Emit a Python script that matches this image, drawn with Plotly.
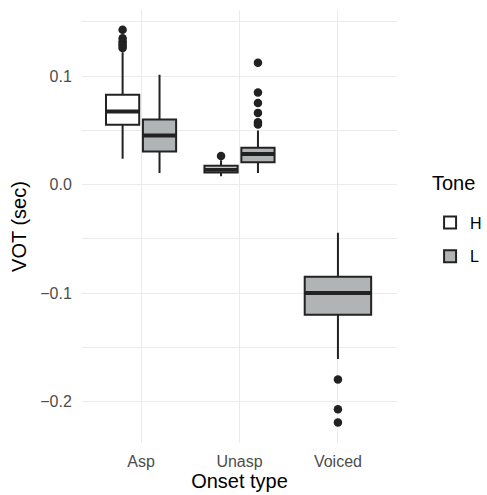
import plotly.graph_objects as go

# ---- data ----
categories = ["Asp", "Unasp", "Voiced"]
y_tickvals = [-0.2, -0.1, 0.0, 0.1]
y_ticktext = ["\u22120.2", "\u22120.1", "0.0", "0.1"]

# Tone H
h_cats = ["Asp", "Unasp"]
h_q1 = [0.0552, 0.0112]
h_med = [0.0674, 0.0138]
h_q3 = [0.0828, 0.0174]
h_lo = [0.0240, 0.0078]
h_hi = [0.1220, 0.0225]
h_out = [[0.1427, 0.1350, 0.1320, 0.1300, 0.1280, 0.1260], [0.0264]]

# Tone L
l_cats = ["Asp", "Unasp", "Voiced"]
l_q1 = [0.0307, 0.0208, -0.1199]
l_med = [0.0454, 0.0284, -0.0998]
l_q3 = [0.0600, 0.0341, -0.0849]
l_lo = [0.0108, 0.0108, -0.1606]
l_hi = [0.1014, 0.0500, -0.0442]
l_out = [[], [0.1124, 0.0849, 0.0754, 0.0662, 0.0576, 0.0555], [-0.1794, -0.2069, -0.2191]]

# ---- styling ----
LINE = "#222222"
GRAY_FILL = "#B1B4B4"
FONT = "Liberation Sans, Arial, sans-serif"
DODGE = 0.75
PAD = 0.1

cat_pos = {c: i + 1 for i, c in enumerate(categories)}

fig = go.Figure()


def add_group(cats, q1, med, q3, lo, hi, outs, tone, fill, offset_sign):
    groups = {}
    for i, c in enumerate(cats):
        both = c in h_cats and c in l_cats
        if both:
            x = cat_pos[c] + offset_sign * DODGE / 4
            w = DODGE / 2 * (1 - PAD)
        else:
            x = cat_pos[c]
            w = DODGE * (1 - PAD)
        groups.setdefault(w, []).append((i, x))
    first = True
    for w, items in groups.items():
        idx = [i for i, _ in items]
        xs = [x for _, x in items]
        fig.add_trace(go.Box(
            name=tone, legendgroup=tone, showlegend=first,
            x=xs,
            q1=[q1[i] for i in idx], median=[med[i] for i in idx], q3=[q3[i] for i in idx],
            lowerfence=[lo[i] for i in idx], upperfence=[hi[i] for i in idx],
            width=w, whiskerwidth=0, fillcolor=fill,
            line=dict(color=LINE, width=2), boxpoints=False, hoverinfo="skip",
        ))
        first = False
        mx, my = [], []
        for i, x in items:
            mx += [x - w / 2, x + w / 2, None]
            my += [med[i], med[i], None]
        fig.add_trace(go.Scatter(x=mx, y=my, mode="lines", line=dict(color=LINE, width=4),
                                 showlegend=False, hoverinfo="skip", legendgroup=tone))
        ox, oy = [], []
        for i, x in items:
            for v in outs[i]:
                ox.append(x)
                oy.append(v)
        if ox:
            fig.add_trace(go.Scatter(x=ox, y=oy, mode="markers",
                                     marker=dict(color=LINE, size=8.5),
                                     showlegend=False, hoverinfo="skip", legendgroup=tone))


add_group(h_cats, h_q1, h_med, h_q3, h_lo, h_hi, h_out, "H", "white", -1)
add_group(l_cats, l_q1, l_med, l_q3, l_lo, l_hi, l_out, "L", GRAY_FILL, +1)

minor_y = [-0.15, -0.05, 0.05, 0.15]

fig.update_layout(
    width=487, height=495,
    margin=dict(l=82, r=90, t=10, b=52, autoexpand=False),
    plot_bgcolor="white", paper_bgcolor="white",
    font=dict(family=FONT, size=16, color="#4D4D4D"),
    boxmode="overlay",
    showlegend=True,
    legend=dict(
        font=dict(size=16, color="black"),
        x=1.105, xanchor="left", y=0.47, yanchor="middle",
        tracegroupgap=10, bgcolor="rgba(0,0,0,0)",
    ),
    annotations=[dict(
        text="Tone", xref="paper", yref="paper", x=1.105, y=0.60,
        xanchor="left", yanchor="middle", showarrow=False,
        font=dict(size=20, color="black", family=FONT),
    )],
    xaxis=dict(
        range=[0.4, 3.6], automargin=False,
        tickvals=[cat_pos[c] for c in categories], ticktext=categories,
        showgrid=True, gridcolor="#EBEBEB", gridwidth=1.2,
        zeroline=False, showline=False,
        ticks="outside", ticklen=4, tickcolor="rgba(0,0,0,0)",
        tickfont=dict(size=16, color="#4D4D4D"),
        title=dict(text="Onset type", font=dict(size=20, color="black"), standoff=4),
    ),
    yaxis=dict(
        range=[-0.238, 0.161], automargin=False,
        tickvals=y_tickvals, ticktext=y_ticktext,
        showgrid=True, gridcolor="#EBEBEB", gridwidth=1.2,
        minor=dict(tickvals=minor_y, showgrid=True, gridcolor="#EBEBEB", gridwidth=1),
        zeroline=False, showline=False,
        ticks="outside", ticklen=6, tickcolor="rgba(0,0,0,0)",
        tickfont=dict(size=16, color="#4D4D4D"),
        title=dict(text="VOT (sec)", font=dict(size=20, color="black"), standoff=8),
    ),
)

fig.write_html("out.html", config={"displayModeBar": False},
               post_script="document.body.style.margin='0';")
